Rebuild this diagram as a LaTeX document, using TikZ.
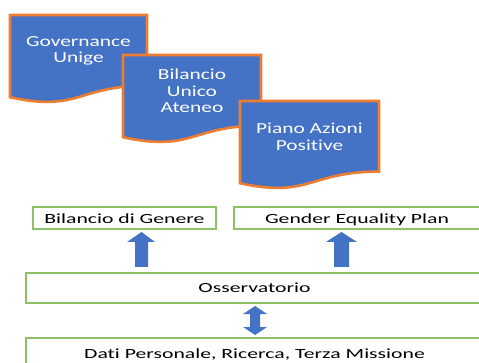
\documentclass[tikz,border=0pt]{standalone}
\usepackage{fontspec}
\newfontfamily\docfont[FakeStretch=1.4, Ligatures=NoCommon]{Carlito}
\newfontfamily\boxfont[FakeStretch=1.55, Ligatures=NoCommon]{Carlito}
\definecolor{docblue}{HTML}{4472C4}
\definecolor{docorange}{HTML}{ED7D31}
\definecolor{boxgreen}{HTML}{8CC168}
\tikzset{
  docshape/.style={fill=docblue, draw=docorange, line width=2.6pt, line join=miter},
  doctext/.style={text=white, align=center, font=\docfont\fontsize{15.3}{16.5}\selectfont, inner sep=0pt},
  greenbox/.style={draw=boxgreen, line width=1.2pt, fill=white, inner sep=0pt, text depth=0pt, text height=10pt, font=\boxfont\fontsize{14}{15}\selectfont},
  blockarrow/.style={fill=docblue, draw=none},
}
\newcommand{\docpath}[4]{% x0, y0, w, h
  \path[docshape] (#1,#2) -- ({#1+#3},#2) -- ({#1+#3},{#2+0.802*#4})
    .. controls ({#1+0.5*#3},{#2+0.802*#4}) and ({#1+0.5*#3},{#2+1.1075*#4}) .. (#1,{#2+0.934*#4}) -- cycle;}
\begin{document}
\begin{tikzpicture}[x=1pt,y=-1pt]
\useasboundingbox (0,0) rectangle (479,363);
% documents
\docpath{10}{15}{137}{88}
\node[doctext] (gov) at (78.5,51) {Governance\\Unige};
\docpath{123}{55}{138}{88}
\node[doctext] (bua) at (192,91) {Bilancio\\Unico\\Ateneo};
\docpath{240}{101}{139}{88}
\node[doctext] (pap) at (309.5,137) {Piano Azioni\\Positive};
% green boxes
\node[greenbox, text height=11pt, minimum width=183pt, minimum height=22pt] (bg) at (124.5,218) {Bilancio di Genere};
\node[greenbox, text height=11pt, minimum width=246pt, minimum height=22pt] (gep) at (357,218) {Gender Equality Plan};
\node[greenbox, minimum width=457pt, minimum height=30pt] (oss) at (254.5,288) {Osservatorio};
\node[greenbox, minimum width=457pt, minimum height=30pt] (dati) at (254.5,353) {Dati Personale, Ricerca, Terza Missione};
% block arrows
\path[blockarrow] (135,267) -- (135,242) -- (127,242) -- (141.5,232) -- (155,242) -- (148,242) -- (148,267) -- cycle;
\path[blockarrow] (334,267) -- (334,242) -- (326,242) -- (341.5,232) -- (357,242) -- (349,242) -- (349,267) -- cycle;
\path[blockarrow] (250,314) -- (243,314) -- (255,306) -- (267,314) -- (260,314) -- (260,327) -- (267,327) -- (255,335) -- (243,327) -- (250,327) -- cycle;
\end{tikzpicture}
\end{document}
